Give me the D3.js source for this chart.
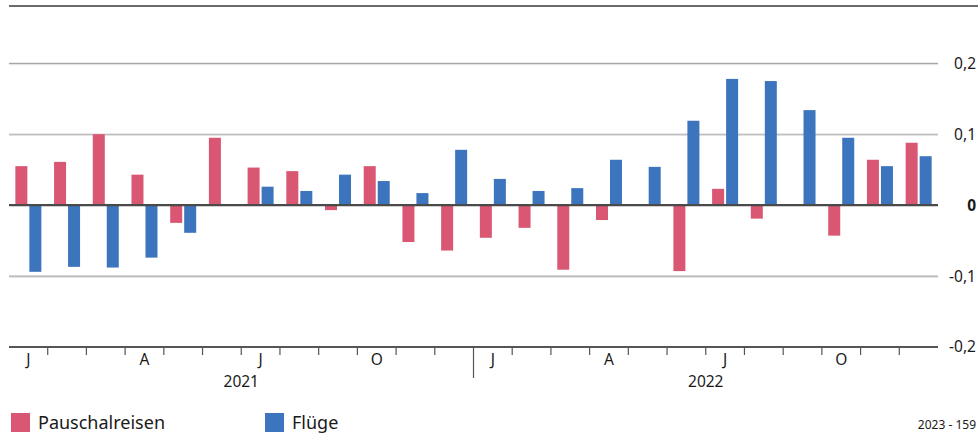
<!DOCTYPE html>
<html>
<head>
<meta charset="utf-8">
<script src="https://cdn.jsdelivr.net/npm/d3@7"></script>
<style>
  body { margin: 0; background: #fff; }
  text { font-family: "Noto Sans", sans-serif; fill: #1a1a1a; }
</style>
</head>
<body>
<svg id="chart" width="978" height="433"></svg>
<script>
// months Jan 2021 .. Dec 2022
var months = ["J","F","M","A","M","J","J","A","S","O","N","D",
              "J","F","M","A","M","J","J","A","S","O","N","D"];
var years = ["2021", "2022"];
var seriesNames = ["Pauschalreisen", "Flüge"];

var pauschalreisen = [0.055, 0.061, 0.100, 0.043, -0.025, 0.095, 0.053, 0.048, -0.007, 0.055, -0.052, -0.064,
                      -0.046, -0.032, -0.091, -0.021, -0.001, -0.093, 0.023, -0.019, 0, -0.043, 0.064, 0.088];
var fluege = [-0.094, -0.087, -0.088, -0.074, -0.039, 0.001, 0.026, 0.020, 0.043, 0.034, 0.017, 0.078,
              0.037, 0.020, 0.024, 0.064, 0.054, 0.119, 0.178, 0.175, 0.134, 0.095, 0.055, 0.069];

var yTicks = [-0.2, -0.1, 0, 0.1, 0.2];
var colors = ["#d95773", "#3c75bd"];

var svg = d3.select("#chart");
var left = 9, right = 938;

var idx = d3.range(months.length);
var x = d3.scaleBand().domain(idx).range([left, right]).padding(0);
var bw = x.bandwidth();

// two bars of 12px with 2px gap, centred in each month
var step = 14;
var pIn = 2 / step;
var pOut = (bw / step - 2 + pIn) / 2;
var x1 = d3.scaleBand().domain([0, 1]).range([0, bw]).paddingInner(pIn).paddingOuter(pOut);

var y = d3.scaleLinear().domain([-0.2, 0.2]).range([347, 63.3]);

// top frame line
svg.append("line")
    .attr("x1", left).attr("x2", 978)
    .attr("y1", 6).attr("y2", 6)
    .attr("stroke", "#6b6b6b").attr("stroke-width", 2);

// gridlines
var gridVals = yTicks.filter(function(d) { return d != 0 && d != -0.2; });
var grid = svg.append("g").attr("class", "grid");
grid.selectAll("line.shadow")
    .data(gridVals)
    .enter().append("line")
    .attr("class", "shadow")
    .attr("x1", left).attr("x2", right)
    .attr("y1", function(d) { return y(d) + 1.3; })
    .attr("y2", function(d) { return y(d) + 1.3; })
    .attr("stroke", "#e2e2e2").attr("stroke-width", 1);
grid.selectAll("line.main")
    .data(gridVals)
    .enter().append("line")
    .attr("class", "main")
    .attr("x1", left).attr("x2", right)
    .attr("y1", function(d) { return y(d); })
    .attr("y2", function(d) { return y(d); })
    .attr("stroke", "#a8a8a8").attr("stroke-width", 1.2);

// bars
var data = idx.map(function(i) { return [pauschalreisen[i], fluege[i]]; });
var groups = svg.append("g").selectAll("g")
    .data(data)
    .enter().append("g")
    .attr("transform", function(d, i) { return "translate(" + x(i) + ",0)"; });

groups.selectAll("rect")
    .data(function(d) { return d; })
    .enter().append("rect")
    .attr("x", function(d, j) { return x1(j); })
    .attr("width", x1.bandwidth())
    .attr("y", function(d) { return y(Math.max(0, d)); })
    .attr("height", function(d) { return Math.abs(y(d) - y(0)); })
    .attr("fill", function(d, j) { return colors[j]; });

// zero line
svg.append("line")
    .attr("x1", left).attr("x2", right)
    .attr("y1", y(0)).attr("y2", y(0))
    .attr("stroke", "#4a4a4a").attr("stroke-width", 2.4);

// bottom axis line
svg.append("line")
    .attr("x1", left).attr("x2", right)
    .attr("y1", y(-0.2)).attr("y2", y(-0.2))
    .attr("stroke", "#555").attr("stroke-width", 2);

// month ticks at boundaries
var bounds = d3.range(1, months.length);
svg.append("g").selectAll("line")
    .data(bounds)
    .enter().append("line")
    .attr("x1", function(i) { return x(i); })
    .attr("x2", function(i) { return x(i); })
    .attr("y1", y(-0.2))
    .attr("y2", function(i) { return i == 12 ? 378 : 355; })
    .attr("stroke", "#555").attr("stroke-width", 1.2);

// month labels (quarter starts only)
svg.append("g").selectAll("text")
    .data(idx.filter(function(i) { return i % 3 == 0; }))
    .enter().append("text")
    .attr("x", function(i) { return x(i) + bw / 2; })
    .attr("y", 364.5)
    .attr("text-anchor", "middle")
    .style("font-size", "15.5px")
    .text(function(i) { return months[i]; });

// year labels
svg.append("g").selectAll("text")
    .data(years)
    .enter().append("text")
    .attr("x", function(d, i) { return x(i * 12 + 6); })
    .attr("y", 387)
    .attr("text-anchor", "middle")
    .style("font-size", "15.5px")
    .text(function(d) { return d; });

// y labels on the right
svg.append("g").selectAll("text")
    .data(yTicks)
    .enter().append("text")
    .attr("x", 976)
    .attr("y", function(d) { return y(d); })
    .attr("dy", "0.35em")
    .attr("text-anchor", "end")
    .style("font-size", "15.5px")
    .style("font-weight", function(d) { return d == 0 ? "bold" : "normal"; })
    .text(function(d) { return d == 0 ? "0" : d3.format(".1f")(d).replace("−", "-").replace(".", ","); });

// legend
var legend = svg.append("g").selectAll("g")
    .data(seriesNames)
    .enter().append("g")
    .attr("transform", function(d, i) { return "translate(" + (11 + i * 254) + ",413)"; });
legend.append("rect")
    .attr("width", 19).attr("height", 19)
    .attr("fill", function(d, i) { return colors[i]; });
legend.append("text")
    .attr("x", 27).attr("y", 16)
    .style("font-size", "18px")
    .text(function(d) { return d; });

// source note
svg.append("text")
    .attr("x", 976).attr("y", 429)
    .attr("text-anchor", "end")
    .style("font-size", "12px")
    .text("2023 - 159");
</script>
</body>
</html>
